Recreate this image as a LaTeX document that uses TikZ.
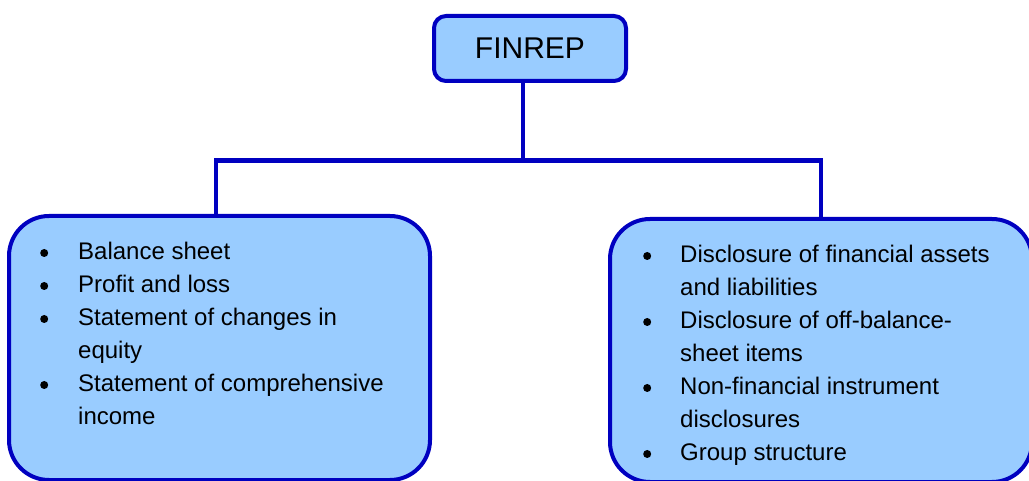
\documentclass[tikz,border=0pt]{standalone}
\usepackage{fontspec}
\setmainfont{Liberation Sans}
\definecolor{bfill}{HTML}{99CCFF}
\definecolor{bdraw}{HTML}{0000C0}
\newcommand\blt{\tikz[baseline=0pt]\fill[black] (4pt,7pt) circle (4pt);}
\begin{document}
\begin{tikzpicture}[x=1pt,y=-1pt,
  box/.style={draw=bdraw, fill=bfill, line width=4pt, inner sep=0pt},
  bigbox/.style={box, rounded corners=40pt},
  conn/.style={draw=bdraw, line width=4.5pt, line join=miter},
  listtext/.style={inner sep=0pt, anchor=base west, font=\fontsize{24}{33}\selectfont, text=black},
]
\useasboundingbox (0,0) rectangle (1029,481);
\node[box, rounded corners=12pt, minimum width=192pt, minimum height=65pt,
      font=\fontsize{30}{36}\selectfont] (top) at (530,48.5) {FINREP};
\node[bigbox, minimum width=421pt, minimum height=264pt] (left) at (219.5,348) {};
\node[bigbox, minimum width=422pt, minimum height=263pt] (right) at (821,350.5) {};
\coordinate (j) at (523,160.5);
\draw[conn] (top.south -| j) -- (j);
\draw[conn] (left.north -| 216,0) |- (j) -| (right.north -| 821,0);
\node[listtext] (ltext) at (40,260) {\begin{tabular}[t]{@{}p{38pt}@{}l@{}}
\blt & Balance sheet\\
\blt & Profit and loss\\
\blt & Statement of changes in\\
 & equity\\
\blt & Statement of comprehensive\\
 & income
\end{tabular}};
\node[listtext] (rtext) at (643,263) {\begin{tabular}[t]{@{}p{37pt}@{}l@{}}
\blt & Disclosure of financial assets\\
 & and liabilities\\
\blt & Disclosure of off-balance-\\
 & sheet items\\
\blt & Non-financial instrument\\
 & disclosures\\
\blt & Group structure
\end{tabular}};
\end{tikzpicture}
\end{document}
